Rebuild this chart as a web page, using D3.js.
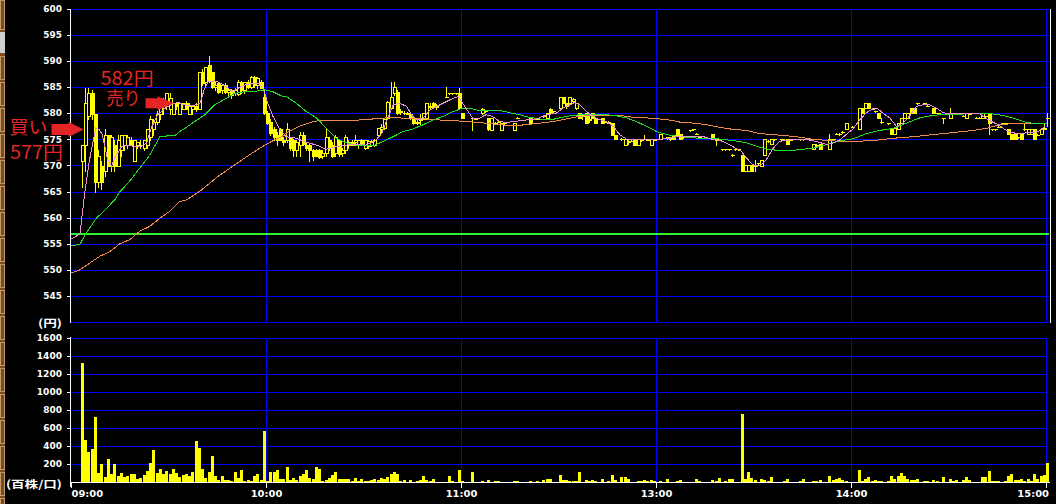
<!DOCTYPE html>
<html><head><meta charset="utf-8">
<script src="https://cdn.jsdelivr.net/npm/d3@7"></script>
<style>html,body{margin:0;padding:0;background:#000;overflow:hidden}</style>
</head><body><svg id="c" width="1056" height="504"></svg>
<script>
// ---------------- DATA ----------------
const timeTicks = [0, 60, 120, 180, 240, 300];           // session minutes (lunch break removed)
const timeLabels = ["09:00", "10:00", "11:00", "13:00", "14:00", "15:00"];
const priceTicks = [545, 550, 555, 560, 565, 570, 575, 580, 585, 590, 595, 600];
const volumeTicks = [200, 400, 600, 800, 1000, 1200, 1400, 1600];
const priceUnit = "(円)";
const volumeUnit = "(百株/口)";
const refPrice = 557;

// [session minute, open, high, low, close]
const candles = [
[3,571,574,566,574],[4,574,585,569,582],[5,579.5,585,579,584],[6,584,584.5,579,580],[7,580,580,565,567],
[8,567,573,566,572],[9,570,571,565.5,567],[10,569,577,568,576],[11,576,576,570,570],[12,570,576,569,575.5],
[13,574,575,569,570],[14,570,576,570,575],[15,573,576,572,576],[16,574,576,573,576],[17,574,576,573.5,575.5],
[18,575,575.5,574,574],[19,571,575,571,575],[20,574,574.5,573.5,574.5],[21,574,575,573.5,574],[22,573.5,575,573,575],
[23,574,577,573.5,577],[24,575.5,579.5,575,579],[25,577,579,576,578.5],[26,578.5,580.5,578,580],[27,580,582,579,581.5],
[28,581.5,583,580,582.5],[29,582,584,581,584],[30,581,584,580,583],[31,580,582,580,582],[32,582,582.2,581,581.5],
[33,580,582.2,580,582],[34,581,582,581,582],[35,582,582.5,581,581],[36,580,582,580,581.5],[37,581,581.5,580,581.5],
[38,581.5,582,580.5,581],[39,581,588,581,588],[40,588,588.5,585.5,585.8],[41,586,589,585.5,589],[42,589.3,591,586,586.5],
[43,588,588,585,585.2],[44,585.2,586,584.5,585.5],[45,585.8,586,584,584.2],[46,584.5,585.5,584,585.5],[47,585.5,585.8,584,584.2],
[48,584.2,585,583.5,584.5],[49,584.5,584.8,583,583.5],[50,584,585,583.5,584.5],[51,583.8,586.5,583.5,586],[52,586,586.2,584,584.5],
[53,584.5,586,584,586],[54,586,586.5,585,585.2],[55,585.2,587.2,585,587],[56,587,587.2,585.2,585.5],[57,585.5,587,585,586.8],
[58,586,586.5,585,585],[59,583.3,584.5,580,580.2],[60,580.2,580.5,578,578.2],[61,578.5,579,576,576.3],[62,577,577.5,575,575.5],
[63,576,576.5,574,575],[64,577,577.2,575,575],[65,575,575.5,574,574.5],[66,575,578.2,574.5,577],[67,575.3,575.5,573,573.4],
[68,575,575.2,572,573],[69,573,575,572,574.5],[70,574,576.5,572,576],[71,576,576.5,574,574.2],[72,574,574.5,573,573.5],
[73,574,574.2,571,573],[74,573,573.2,571.2,572],[75,573,573.2,572,572],[76,573,573.2,571.5,571.8],[77,572,573,571.5,572.5],
[78,572.5,577,572,575.5],[79,575,575.5,573,573.5],[80,574,574.5,571.8,572],[81,572.5,576,572,575.5],[82,575,575,572,572.2],
[83,572.5,573.5,572,573],[84,573,576,572.5,575.5],[85,574,575,573.5,574.5],[86,574.5,575,574,574],[87,574.5,576,574,575],
[88,574,575,573.5,575],[89,575,575.2,574,574.2],[90,573.5,575,573.2,575],[91,573.8,575,573.5,574.8],[92,574,575,573.8,574.8],
[93,574,575.2,573.8,575],[94,576,577.3,575.5,577.2],[95,577,578,576.5,577.5],[96,577.2,579.2,577,579],[97,579.1,582.5,579,582.3],
[98,581.1,586,581,583.3],[99,583.9,586,583.5,585.2],[100,584.2,584.5,580,580.1],[101,580.5,581,580,580.3],[102,580.1,580.5,580,580.1],
[103,580.1,580.3,579.9,580],[104,580,580.2,579,579.2],[105,579.1,579.2,578,578.2],[106,578.5,579,578,578.3],[107,578.8,580,577.8,579],
[108,579,580.2,579,580.1],[109,579.1,582,579,582],[110,581.5,582,581,581.2],[111,582,582.2,581.3,581.4],[112,581.5,581.8,581,581.2],
[115,583.3,585.2,583.2,583.3],[116,583.9,584,583.8,583.9],[117,583.9,584,583.8,583.9],[118,583.9,584,583.8,583.9],[119,583.9,585,581,581.1],
[120,580.1,580.2,579.1,579.1],[123,579.1,579.2,576.9,579.1],[124,579,579.1,578.9,579],[126,580.1,581.1,580,581],[127,580.5,580.6,580.4,580.5],
[128,579.2,579.2,576.9,577],[129,576.9,579.2,576.8,579.1],[130,578.3,578.4,578.2,578.3],[131,578.5,578.6,578.4,578.5],[132,576.9,578.2,576.8,578.2],
[133,578.2,578.3,578.1,578.2],[136,576.9,578.2,576.9,578.2],[137,579.2,579.3,579.1,579.2],[141,579.2,579.3,578.2,578.2],[142,579,579.1,578.9,579],
[143,579,579.1,578.9,579],[145,579.5,579.6,579.4,579.5],[146,579.2,580.1,579.2,580.1],[147,581,581.1,580,580.1],[148,580.5,580.6,580.4,580.5],
[150,581.1,583.3,581,583.2],[151,583.2,583.3,582,582],[152,582,582,581.1,581.5],[153,582,583.3,581.8,583.2],[154,582.5,583,582.3,582.8],
[155,581.1,582,581,582],[156,580.1,580.2,579.2,579.2],[157,579.5,580,579,579.8],[158,580.1,580.2,578.2,578.2],[159,578.8,579.5,578.5,579],
[160,580.1,580.2,579.1,579.1],[161,579.1,579.2,578.2,578.2],[163,579.1,579.2,578.2,578.2],[164,578.5,578.6,578.4,578.5],[165,578.5,578.6,578.2,578.2],
[166,578.2,578.2,576,576],[167,576,576,575.1,575.1],[169,575.2,575.4,575,575.2],[170,574.1,575.1,574,575.1],[171,574.5,575,574.2,574.8],
[172,574.8,574.9,574.7,574.8],[173,575.1,575.1,574.1,574.1],[174,574.1,575.1,574.1,575.1],[175,575,575.2,574.8,575],[176,575.1,576,575.1,575.1],
[177,575,575.1,574.9,575],[178,574.1,575.1,574.1,575.1],[179,575,575.1,574.9,575],[181,575.1,576.2,575.1,576.2],[183,575.5,575.6,575.1,575.3],
[184,575.3,575.5,575,575.2],[185,576,576,575.1,575.1],[186,577,577,576,576],[187,576.2,576.2,575.1,575.1],[188,575.5,575.6,575.4,575.5],
[190,576.8,576.9,576.7,576.8],[191,577,577.1,576.9,577],[192,576.2,576.3,576.1,576.2],[193,575.5,575.6,575.4,575.5],[197,576.2,576.2,575.1,575.1],
[198,575.1,575.1,574,575],[199,575,575.1,574.9,575],[200,573.2,573.3,573.1,573.2],[201,573.2,573.3,573.1,573.2],[202,573.2,573.3,573.1,573.2],
[203,572.1,572.2,572,572.1],[204,573.2,573.3,573.1,573.2],[205,573.2,573.3,573.1,573.2],[206,572.1,572.1,569.1,569.1],[207,569.1,570.2,569.1,570.2],
[208,569.1,570.2,569.1,570.2],[209,570.2,570.2,569.1,569.1],[210,570,571.2,569.1,570],[211,570.5,570.6,570.4,570.5],[212,570,571.2,570,571.2],
[213,572.1,575.1,572.1,575.1],[214,574.8,575,574.5,574.8],[215,574.2,575.1,574.2,575.1],[216,575.1,575.2,575,575.1],[218,575.1,575.2,575,575.1],
[219,575,575.1,574.9,575],[220,575.1,575.1,574.2,574.2],[221,575,575.1,574.9,575],[224,575.1,575.2,575,575.1],[225,575.1,575.2,575,575.1],
[227,575,575.1,574.9,575],[228,573.2,574.2,573.2,574.2],[229,574,574.2,573.8,574],[230,574.2,574.2,573.2,573.2],[233,573.2,576.2,573.2,575.1],
[234,575.1,575.2,575,575.1],[235,576.2,576.3,576.1,576.2],[236,576.2,576.3,576,576.2],[237,576.5,576.6,576.4,576.5],[238,577,578.2,577,578.2],
[240,577.5,577.6,577.4,577.5],[242,577,581.1,577,581.1],[243,581.1,581.1,580.1,580.1],[244,581.1,582,581.1,582],[245,582,582,581.1,581.1],
[246,581,581.1,580.9,581],[247,580.5,580.6,580.4,580.5],[248,580.1,580.1,579.2,579.2],[249,578.5,579.2,578.2,578.5],[251,578.2,578.3,578.1,578.2],
[252,577,577,576.2,576.2],[253,576.2,577.2,576.2,577.2],[254,577,578.2,577,578.2],[255,578.2,579.2,578.2,579.2],[256,579.2,580.1,579.2,580.1],
[257,579.2,580.1,579.2,580.1],[258,581.1,581.1,580.1,580.1],[259,581.1,581.1,580.1,580.1],[260,582,582.1,581.9,582],[262,582,582.1,581.9,582],
[263,581.5,581.6,581.4,581.5],[265,581.1,581.1,580.1,580.1],[266,580.1,580.2,580,580.1],[267,580,580.1,579.9,580],[268,579.2,579.2,578.2,579.2],
[270,579.2,581.1,579.2,580.1],[271,580.1,580.2,580,580.1],[272,580.1,580.2,580,580.1],[273,580,580.1,579.9,580],[274,579.6,579.7,579.5,579.6],
[275,579.2,580.1,579.2,580.1],[276,580,580.1,579.9,580],[278,579.2,579.3,579.1,579.2],[279,579.2,579.3,579.1,579.2],[280,579.2,580.1,579.2,580.1],
[281,579.5,579.6,579.4,579.5],[282,580.1,580.1,576.2,578.2],[283,577,577.1,576.9,577],[284,577,577.1,576.9,577],[285,577.5,577.6,577.4,577.5],
[286,578.2,578.3,578.1,578.2],[287,578.2,578.3,578.1,578.2],[288,577,577,576.2,576.2],[289,576.2,576.2,575.1,575.1],[290,576.2,576.2,575.1,575.1],
[291,575.5,575.6,575.4,575.5],[292,576.2,576.2,575.1,575.1],[293,577,578.2,576.8,577],[294,576.2,577,576.2,577],[295,576.2,577,576.2,577],
[296,577,577,575.1,575.1],[297,576,576.1,575.9,576],[298,576.2,577,576.2,577],[299,577,578.2,577,577.2],[300,579.2,580.1,577.6,579.2]
];

// volume per session minute 0..300 (hundreds of shares)
const volumes = [
0,0,0,1333,467,337,367,733,104,207,
59,256,89,207,67,111,56,67,96,89,
44,52,78,133,222,356,111,148,89,133,
89,152,107,59,78,96,67,122,456,385,
152,52,115,300,67,30,67,30,30,15,
122,52,144,15,30,22,67,89,30,567,
22,122,122,144,41,41,167,30,52,30,
67,96,144,52,41,167,152,22,30,52,
78,122,41,41,41,41,15,52,15,41,
15,15,30,41,30,52,41,59,89,115,
96,22,33,11,33,11,22,33,67,33,
22,44,11,0,0,11,67,22,11,144,
22,0,0,122,11,0,22,11,33,11,
22,22,11,11,0,0,22,22,0,0,
0,22,11,22,0,33,44,44,11,0,
78,33,33,22,22,22,122,11,33,22,
33,22,0,44,11,22,78,33,0,56,
56,44,11,11,22,22,33,22,33,22,
0,22,0,44,11,11,22,33,11,0,
11,11,41,19,0,0,0,30,19,52,
7,19,41,41,7,7,756,41,122,52,
30,7,41,30,19,63,7,0,7,19,
41,7,0,0,19,41,0,7,19,19,
30,7,0,74,30,41,52,30,19,0,
7,0,144,19,41,63,19,30,19,22,
0,22,67,44,67,111,67,44,33,33,
44,0,22,22,0,33,22,11,56,0,
44,22,33,11,33,56,33,0,11,11,
56,56,133,22,22,22,0,22,67,100,
33,33,44,22,44,22,89,44,67,78,
222
];

// moving averages: [session minute, price]
const maShort = [
[0,556],[2.6,557],[4.1,565],[5.5,571],[7.5,577.3],[8.5,577],[9.5,576],[11,571.5],[12.3,569.9],[13.3,571.5],
[15.4,573.7],[17.5,574],[19.5,573.7],[21.5,573.7],[23.1,574.4],[24.5,577.2],[26.5,579.8],[28.7,581],[31.3,582],[32.8,582.1],
[34.9,581.7],[37.4,581.5],[39.5,582],[41,584.9],[42,586.1],[44.1,586.3],[46.1,585.8],[48.2,584.9],[49.7,584.2],[51.3,584.9],
[53.3,585.5],[55.4,585.8],[57.5,585.8],[59,584.9],[60.2,582.3],[62,579.5],[64.1,576.9],[66.1,575.6],[69.2,575.3],[72.3,574.5],
[75.4,574],[78.4,573.2],[81.5,573.7],[84.6,574],[87.7,574.2],[90.5,574],[93.3,574.7],[95.5,576.3],[97.5,579.5],[99,581.7],
[101,582],[103.1,581.4],[104.6,579.8],[106.1,578.8],[108.2,579.1],[110.2,580.7],[113.3,581.7],[116.5,582.7],[119,583.3],[121.2,581.2],
[123.5,579.1],[125.4,579.1],[127.5,579.8],[129.5,579.5],[131.8,578.5],[133.8,578.3],[135.9,578.5],[140,578.8],[143.1,579],[146.1,579.8],
[149.2,580.1],[151.3,581.1],[153.3,581.7],[154.9,582.1],[156.5,581.7],[158.5,580.4],[161.5,579.1],[164.6,578.5],[166.7,577.6],[168.7,576],
[170.8,575.1],[173.8,575],[176.9,575],[181,575.1],[184.1,575.3],[187.2,575.7],[191.3,575.6],[194.4,575.6],[197.5,575.1],[200.5,574.7],
[203.5,573.7],[206.1,572.8],[207.7,571.5],[209.7,570.2],[211.8,570],[213.8,571.2],[215.9,573.4],[217.9,574.7],[221,575],[224.1,575],
[227.2,575],[230.2,574.5],[232.3,574.1],[234.3,574.4],[236.4,575],[238.5,576.1],[240.5,577.1],[242.5,578.8],[244.6,580.2],[246.7,581],
[248.2,580.9],[249.7,580.1],[251.8,579.2],[253.8,577.6],[255.9,578.2],[257.9,579.6],[260,581.4],[262,581.7],[264.1,581.7],[266.1,581.1],
[268.2,580.2],[270.2,580],[273.3,580],[276.4,580],[279.5,580],[281,579.2],[283.1,578.5],[285.1,577.9],[287.2,577],[289.2,576.4],
[291.3,576.2],[293.3,576.3],[295.4,576.4],[297.5,576.6],[299.5,577.6]
];
const maMid = [
[0,554.7],[2.6,555],[4.6,557.2],[7.7,560],[10.8,561.9],[13.3,563.5],[14.9,565.1],[17.4,566.7],[21,569.6],[24,572],
[27.2,575.6],[30.2,575.8],[31.8,575.8],[33.3,576.6],[34.9,577.2],[37.9,578.5],[41,579.8],[44.1,581.7],[47.2,582.8],[50.2,583.9],
[53.3,584.2],[56.4,584.3],[59.5,584.6],[62,584.2],[64.6,583.4],[66.1,583.3],[69.2,582],[72.3,580.4],[75.4,579.2],[78.4,577.2],
[81.5,575.3],[84.6,574.4],[87.7,574],[90.8,573.9],[93.3,574],[95.9,574.7],[99,575.6],[102,576.6],[105.1,577.1],[108.2,577.9],
[111.3,578.8],[114.3,579.5],[117.4,580.4],[120.5,581.1],[123.6,580.9],[125.6,580.6],[131.8,580.6],[134.9,580.2],[137.9,579.8],[141,579.3],
[144.1,579],[147.2,578.8],[150.2,579.2],[153.3,579.6],[156.4,579.8],[164.6,579.8],[167.7,579.6],[170.8,579.2],[173.8,578.5],[176.9,577.6],
[180,576.6],[183.1,576],[187.2,575.6],[193.3,575.3],[197.4,575.3],[201.5,575],[205.6,574.7],[207.7,574.4],[211.8,573.6],[214.9,573.1],
[217.9,573],[222,573],[225.1,573.2],[228.2,573.4],[232.3,574.1],[236.4,574.8],[240.5,575.2],[244.6,576.2],[248.7,576.8],[252.8,577.2],
[256.9,578.2],[261,579.2],[265.1,579.7],[269.2,579.9],[273.3,579.9],[277.4,580.1],[281.5,580.1],[285.5,579.8],[289.7,579.2],[293.8,578.3],
[297.9,578.1],[300,578.1]
];
const maLong = [
[0,549.5],[2.6,550.1],[5.6,551.4],[8.7,552.7],[11.8,553.6],[14.9,555.1],[18,555.9],[21,557.5],[24,558.4],[27.2,560],
[30.2,561.3],[33.3,563.2],[35.4,563.5],[40,565.4],[45.1,568],[50.2,570.2],[55.4,572.4],[59.5,574],[62.5,575],[64.6,575.6],
[66.1,576.3],[70.2,577.6],[74.3,578.5],[76.4,578.7],[80.5,578.7],[84.6,578.7],[88.7,578.8],[92.8,579],[96.9,579.2],[101,579.2],
[105.1,579],[109.2,579],[113.3,578.8],[117.4,578.7],[121.5,578.5],[125.6,578.3],[127.5,578.2],[131.8,577.9],[135.9,577.7],[140,577.9],
[144.1,578.2],[148.2,578.5],[152.3,579],[156.4,579.5],[160.5,579.7],[168.7,579.7],[172.8,579.3],[176.9,579.2],[181,579],[185.1,578.7],
[187.2,578.4],[191.3,578.2],[195.4,577.9],[199.5,577.4],[203.5,577],[207.7,576.8],[211.8,576.2],[215.9,576],[220,575.8],[224.1,575.5],
[228.2,575.1],[232.3,574.9],[236.4,574.7],[240.5,574.7],[244.6,574.8],[248.7,575],[252.8,575.3],[259,575.6],[265.1,576],[271.3,576.4],
[277.4,576.8],[281.5,577.2],[285.5,577.9],[289.7,578.1],[293.8,578.1],[297.9,578.2],[300,578.2]
];

// trade annotations
const tradeSides = ["買い", "売り"];
const tradePrices = [577, 582];
const tradeMinutes = [3.7, 31.4];

// ---------------- DRAW ----------------
const svg = d3.select("#c");
svg.append("rect").attr("width", 1056).attr("height", 504).attr("fill", "#000");

const x = d3.scaleLinear().domain([0, 300]).range([71.5, 1046.5]);
const yP = d3.scaleLinear().domain([540, 600]).range([322.6, 9.3]);
const yV = d3.scaleLinear().domain([0, 1600]).range([482.5, 338.5]);

const BLUE = "#0000ff", YEL = "#ffff00";
const px = v => Math.round(v) + 0.5;

// window frame strip (left edge)
const frame = svg.append("g").attr("shape-rendering", "crispEdges");
frame.append("rect").attr("x", 0).attr("y", 0).attr("width", 5).attr("height", 504).attr("fill", "#7a4c22");
frame.append("rect").attr("x", 0.5).attr("y", 0.5).attr("width", 4).attr("height", 29).attr("fill", "none").attr("stroke", "#c49a6a");
frame.append("rect").attr("x", 0).attr("y", 32).attr("width", 5).attr("height", 21).attr("fill", "#cfcfcf");
for (let yy = 56; yy < 504; yy += 26) {
  frame.append("rect").attr("x", 0.5).attr("y", yy + 0.5).attr("width", 4).attr("height", 23).attr("fill", "none").attr("stroke", "#c49a6a");
}

// grid
const grid = svg.append("g").attr("stroke", BLUE).attr("stroke-width", 1).attr("shape-rendering", "crispEdges");
[540, ...priceTicks].forEach(v => grid.append("line").attr("x1", 70).attr("x2", 1049).attr("y1", px(yP(v) - 0.5)).attr("y2", px(yP(v) - 0.5)));
volumeTicks.forEach(v => grid.append("line").attr("x1", 70).attr("x2", 1048).attr("y1", px(yV(v) - 0.5)).attr("y2", px(yV(v) - 0.5)));
timeTicks.slice(1).forEach(t => {
  const xx = Math.floor(x(t)) + 0.5;
  grid.append("line").attr("x1", xx).attr("x2", xx).attr("y1", yP(600)).attr("y2", yP(540));
  grid.append("line").attr("x1", xx).attr("x2", xx).attr("y1", yV(1600)).attr("y2", yV(0));
});

// reference line
svg.append("line").attr("x1", 70).attr("x2", 1049).attr("y1", yP(refPrice)).attr("y2", yP(refPrice))
  .attr("stroke", "#33ee33").attr("stroke-width", 2).attr("shape-rendering", "crispEdges");

// candles
const cg = svg.append("g").attr("shape-rendering", "crispEdges");
candles.forEach(([t, o, h, l, c]) => {
  const left = Math.round(x(t) - 0.4);
  const yo = Math.round(yP(o)), yc = Math.round(yP(c)), yh = Math.round(yP(h)), yl = Math.round(yP(l));
  cg.append("line").attr("x1", left + 1.5).attr("x2", left + 1.5).attr("y1", yh).attr("y2", yl + 1).attr("stroke", YEL);
  if (yo === yc) {
    cg.append("line").attr("x1", left - 0.5).attr("x2", left + 4).attr("y1", yo + 0.5).attr("y2", yo + 0.5).attr("stroke", YEL);
  } else if (c > o) {
    cg.append("rect").attr("x", left + 0.5).attr("y", yc + 0.5).attr("width", 3).attr("height", yo - yc)
      .attr("fill", "#000").attr("stroke", YEL);
  } else {
    cg.append("rect").attr("x", left).attr("y", yo).attr("width", 4).attr("height", yc - yo + 1).attr("fill", YEL);
  }
});

// moving averages
const line = d3.line().x(d => x(d[0])).y(d => yP(d[1]));
[[maLong, "#f08a48"], [maMid, "#22dd22"], [maShort, "#f090d0"]].forEach(([data, col]) => {
  svg.append("path").attr("d", line(data)).attr("fill", "none").attr("stroke", col).attr("stroke-width", 1)
    .attr("shape-rendering", "crispEdges");
});

// volume bars
svg.append("g").attr("shape-rendering", "crispEdges").selectAll("rect")
  .data(volumes.map((v, i) => [i, v]).filter(d => d[1] > 0)).join("rect")
  .attr("x", d => Math.round(x(d[0]) - 0.4)).attr("width", 3)
  .attr("y", d => Math.round(yV(d[1]))).attr("height", d => 482 - Math.round(yV(d[1])))
  .attr("fill", YEL);

// axes
function styleAxis(g) {
  g.attr("font-family", "DejaVu Sans").attr("font-weight", "bold").attr("font-size", 8.5);
  g.select(".domain").attr("stroke", "#fff").attr("shape-rendering", "crispEdges");
  g.selectAll(".tick line").attr("stroke", "#fff").attr("shape-rendering", "crispEdges");
  g.selectAll(".tick text").attr("fill", "#fff").attr("lengthAdjust", "spacingAndGlyphs")
    .attr("textLength", function () { return this.textContent.length * 6.5 - 0.8; });
}
const fmt = d3.format("d");
const axP = d3.axisLeft(yP).tickValues(priceTicks).tickFormat(fmt).tickSize(4).tickSizeOuter(0).tickPadding(4.5).offset(0);
svg.append("g").attr("transform", "translate(70.5,0)").call(axP).call(styleAxis);
const axV = d3.axisLeft(yV).tickValues(volumeTicks).tickFormat(fmt).tickSize(4).tickSizeOuter(0).tickPadding(4.5).offset(0);
svg.append("g").attr("transform", "translate(70.5,0)").call(axV).call(styleAxis);
svg.append("line").attr("x1", 70.5).attr("x2", 70.5).attr("y1", 337).attr("y2", 487).attr("stroke", "#fff").attr("shape-rendering", "crispEdges");

const axT = d3.axisBottom(x).tickValues(timeTicks).tickFormat((d, i) => timeLabels[i]).tickSize(5).tickSizeOuter(0).tickPadding(2).offset(0);
const gx = svg.append("g").attr("transform", "translate(0,482.5)").call(axT).call(styleAxis);
gx.selectAll(".tick text").attr("y", 14.5).attr("dy", 0)
  .attr("text-anchor", (d, i) => i === 0 ? "start" : (i === timeTicks.length - 1 ? "end" : "middle"))
  .attr("x", (d, i) => i === timeTicks.length - 1 ? 2.5 : 0);
svg.append("line").attr("x1", 70).attr("x2", 1050).attr("y1", 482.5).attr("y2", 482.5).attr("stroke", "#fff").attr("shape-rendering", "crispEdges");
// right border of price panel
svg.append("line").attr("x1", 1050.5).attr("x2", 1050.5).attr("y1", 9).attr("y2", 323).attr("stroke", "#fff").attr("shape-rendering", "crispEdges");

// unit labels
const unitStyle = s => s.attr("fill", "#fff").attr("font-family", "Noto Sans CJK JP").attr("font-weight", "bold")
  .attr("font-size", 10.5).attr("text-anchor", "end").attr("lengthAdjust", "spacingAndGlyphs");
svg.append("text").text(priceUnit).attr("x", 62).attr("y", 327).attr("textLength", 24).call(unitStyle);
svg.append("text").text(volumeUnit).attr("x", 62).attr("y", 487.5).attr("textLength", 56).call(unitStyle);

// trade annotations (arrow tip at traded price)
const RED = "#e52525";
const ann = svg.append("g");
tradePrices.forEach((p, k) => {
  const tx = x(tradeMinutes[k]), ty = yP(p);
  const bodyLen = k === 0 ? 17 : 12, headLen = k === 0 ? 15 : 16;
  const bh = k === 0 ? 5.5 : 5, hh = k === 0 ? 7.5 : 7;
  ann.append("path").attr("fill", RED).attr("d",
    `M${tx - headLen - bodyLen},${ty - bh}H${tx - headLen}V${ty - hh}L${tx},${ty}L${tx - headLen},${ty + hh}V${ty + bh}H${tx - headLen - bodyLen}Z`);
  const tStyle = s => s.attr("fill", RED).attr("font-family", "Noto Sans CJK JP").attr("font-size", 18).attr("lengthAdjust", "spacingAndGlyphs");
  if (k === 0) {
    ann.append("text").text(tradeSides[k]).attr("x", tx - 74).attr("y", ty + 5).attr("textLength", 38).call(tStyle);
    ann.append("text").text(p + "円").attr("x", tx - 73.5).attr("y", ty + 30).attr("textLength", 53).call(tStyle);
  } else {
    ann.append("text").text(p + "円").attr("x", tx - 73).attr("y", ty - 18).attr("textLength", 53).call(tStyle);
    ann.append("text").text(tradeSides[k]).attr("x", tx - 67).attr("y", ty + 2).attr("textLength", 34).call(tStyle);
  }
});
</script>
</body></html>
